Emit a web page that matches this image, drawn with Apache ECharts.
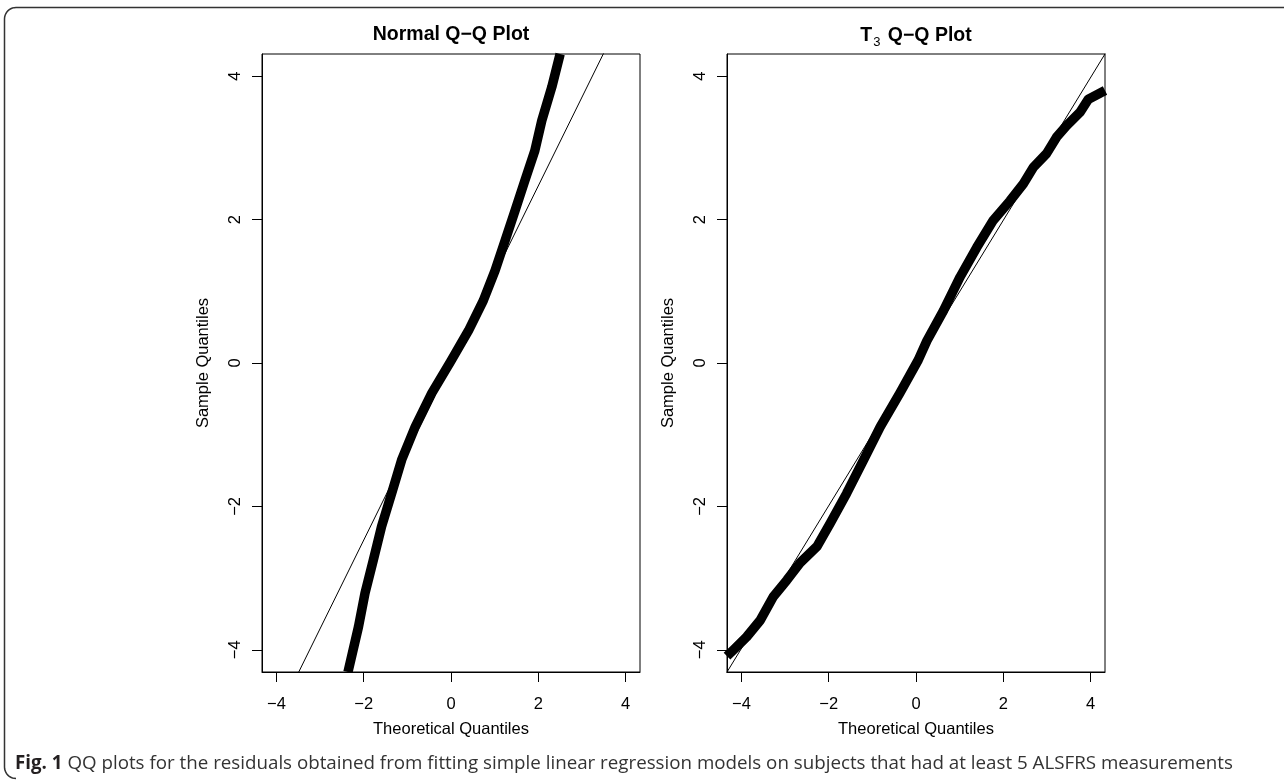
<!DOCTYPE html>
<html><head><meta charset="utf-8">
<script src="https://cdn.jsdelivr.net/npm/echarts@6/dist/echarts.min.js"></script>
<style>html,body{margin:0;padding:0;background:#fff}#c{width:1284px;height:780px}</style>
</head><body><div id="c"></div>
<script>
// ---- data ----
const tickValues = [-4, -2, 0, 2, 4];
const panelTitles = ['Normal Q\u2212Q Plot', 'T3 Q\u2212Q Plot'];
const xAxisName = 'Theoretical Quantiles';
const yAxisName = 'Sample Quantiles';
const captionBold = 'Fig. 1';
const captionText = ' QQ plots for the residuals obtained from fitting simple linear regression models on subjects that had at least 5 ALSFRS measurements';

const normalTheoretical = [-2.36, -2.12, -1.97, -1.78, -1.59, -1.36, -1.13, -0.82, -0.44, 0.00, 0.40, 0.74, 1.01, 1.24, 1.47, 1.69, 1.92, 2.08, 2.31, 2.50];
const normalSample      = [-4.31, -3.68, -3.21, -2.75, -2.28, -1.82, -1.35, -0.89, -0.42, 0.03, 0.45, 0.87, 1.29, 1.71, 2.13, 2.54, 2.96, 3.38, 3.85, 4.31];
const normalRefX = [-4.5, 4.5];
const normalRefY = [-5.56, 5.56];

const t3Theoretical = [-4.33, -4.18, -3.88, -3.57, -3.27, -2.96, -2.66, -2.27, -1.97, -1.59, -1.20, -0.82, -0.37, 0.05, 0.25, 0.63, 1.01, 1.39, 1.77, 2.15, 2.46, 2.69, 2.99, 3.22, 3.45, 3.76, 3.95, 4.33];
const t3Sample      = [-4.09, -4.00, -3.82, -3.59, -3.26, -3.03, -2.79, -2.56, -2.24, -1.82, -1.35, -0.89, -0.42, 0.04, 0.31, 0.73, 1.20, 1.61, 1.99, 2.26, 2.50, 2.73, 2.92, 3.15, 3.31, 3.50, 3.68, 3.80];
const t3RefX = [-4.5, 4.5];
const t3RefY = [-4.48, 4.48];

const xRange = [-4.33, 4.33];
const yRange = [-4.31, 4.31];

// ---- chart ----
const zip = (a, b) => a.map((v, i) => [v, b[i]]);
const FONT = '"Liberation Sans", Arial, Helvetica, sans-serif';
const fmt = v => String(v).replace('-', '\u2212');
const grids = [
  { left: 262, top: 54, width: 378, height: 618 },
  { left: 727, top: 54, width: 378, height: 618 }
];
function xAx(i) {
  return {
    gridIndex: i, type: 'value', min: xRange[0], max: xRange[1],
    axisLine: { show: true, onZero: false, lineStyle: { color: '#000', width: 1 } },
    axisTick: { show: true, length: 10, customValues: tickValues, lineStyle: { color: '#000', width: 1 } },
    axisLabel: { customValues: tickValues, formatter: fmt, margin: 24, fontSize: 16.5, color: '#000', fontFamily: FONT },
    splitLine: { show: false },
    name: xAxisName, nameLocation: 'middle', nameGap: 49,
    nameTextStyle: { fontSize: 16.5, color: '#000', fontFamily: FONT }
  };
}
function yAx(i) {
  return {
    gridIndex: i, type: 'value', min: yRange[0], max: yRange[1],
    axisLine: { show: true, onZero: false, lineStyle: { color: '#000', width: 1 } },
    axisTick: { show: true, length: 10, customValues: tickValues, lineStyle: { color: '#000', width: 1 } },
    axisLabel: { customValues: tickValues, formatter: fmt, rotate: 90, margin: 18, fontSize: 16.5, color: '#000', fontFamily: FONT },
    splitLine: { show: false },
    name: yAxisName, nameLocation: 'middle', nameGap: 50,
    nameTextStyle: { fontSize: 16.5, color: '#000', fontFamily: FONT }
  };
}
// rounded frame (left + top edges) as a polyline
function corner(cx, cy, r, a0, a1, n) {
  const pts = [];
  for (let k = 0; k <= n; k++) { const a = a0 + (a1 - a0) * k / n; pts.push([cx + r * Math.cos(a), cy + r * Math.sin(a)]); }
  return pts;
}
const framePts = [[1284, 7.5]]
  .concat(corner(16, 19, 11.5, -Math.PI / 2, -Math.PI, 10))
  .concat(corner(16, 767, 11.5, Math.PI, Math.PI / 2, 10));

const bandStyle = { color: '#000', width: 9.5, cap: 'butt', join: 'round' };
const chart = echarts.init(document.getElementById('c'), null, { renderer: 'canvas' });
chart.setOption({
  animation: false,
  backgroundColor: '#fff',
  grid: grids.map(g => Object.assign({ show: true, borderColor: '#000', borderWidth: 1, backgroundColor: 'transparent' }, g)),
  xAxis: [xAx(0), xAx(1)],
  yAxis: [yAx(0), yAx(1)],
  series: [
    { type: 'line', xAxisIndex: 0, yAxisIndex: 0, data: zip(normalTheoretical, normalSample), symbol: 'none', clip: true, lineStyle: bandStyle },
    { type: 'line', xAxisIndex: 0, yAxisIndex: 0, data: zip(normalRefX, normalRefY), symbol: 'none', clip: true,
      lineStyle: { color: '#000', width: 1 } },
    { type: 'line', xAxisIndex: 1, yAxisIndex: 1, data: zip(t3Theoretical, t3Sample), symbol: 'none', clip: true, lineStyle: bandStyle },
    { type: 'line', xAxisIndex: 1, yAxisIndex: 1, data: zip(t3RefX, t3RefY), symbol: 'none', clip: true,
      lineStyle: { color: '#000', width: 1 } }
  ],
  graphic: [
    { type: 'polyline', silent: true, shape: { points: framePts },
      style: { fill: null, stroke: '#333', lineWidth: 1.5 } },
    { type: 'text', silent: true, x: 451, y: 45,
      style: { text: panelTitles[0], align: 'center', verticalAlign: 'bottom', fontSize: 19.5, fontWeight: 'bold', fontFamily: FONT, fill: '#000' } },
    { type: 'text', silent: true, x: 916, y: 49,
      style: { text: '{b|T}{s|3}{b|' + panelTitles[1].slice(2) + '}', align: 'center', verticalAlign: 'bottom', fill: '#000',
        rich: {
          b: { fontSize: 19.5, fontWeight: 'bold', fontFamily: FONT, lineHeight: 26, verticalAlign: 'middle' },
          s: { fontSize: 13, fontFamily: FONT, lineHeight: 26, verticalAlign: 'bottom', padding: [0, 2, 0, 1] }
        } } },
    { type: 'text', silent: true, x: 15, y: 764,
      style: { text: '{fb|' + captionBold + '}{ft|' + captionText + '}', align: 'left', verticalAlign: 'middle',
        rich: {
          fb: { fontSize: 18.75, fontWeight: 'bold', fontFamily: '"Open Sans", sans-serif', fill: '#231f20' },
          ft: { fontSize: 18.75, fontFamily: '"Open Sans", sans-serif', fill: '#333' }
        } } }
  ]
});
</script>
</body></html>
